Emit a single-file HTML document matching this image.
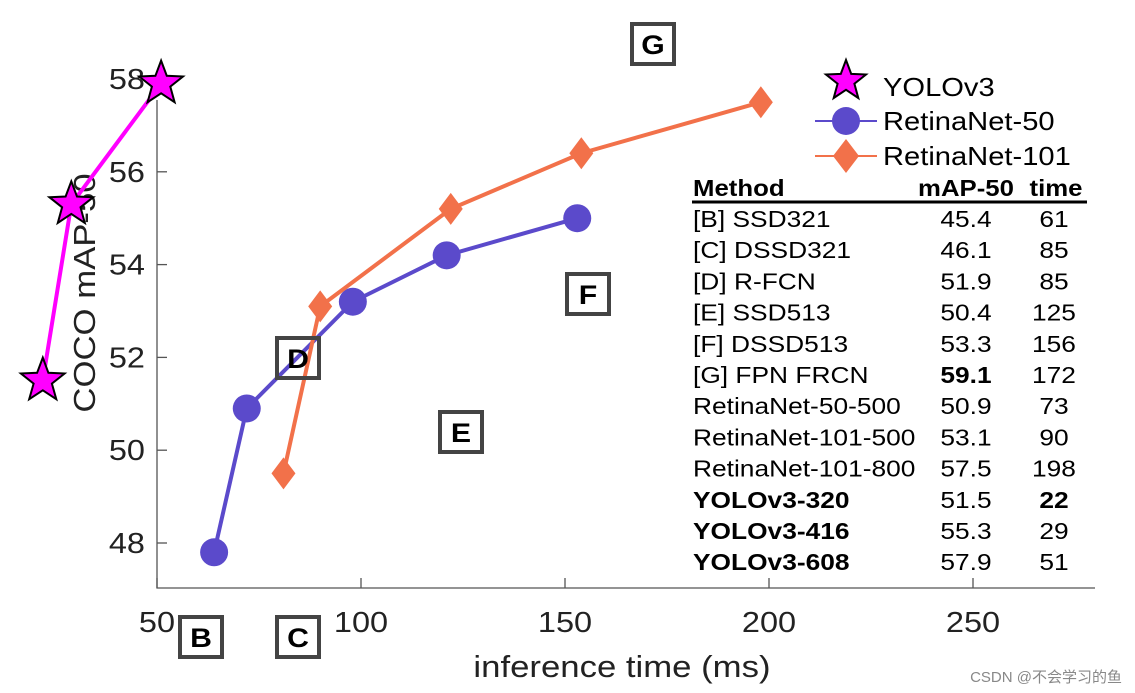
<!DOCTYPE html>
<html><head><meta charset="utf-8"><style>
body{margin:0;background:#fff}
svg{display:block;font-family:"Liberation Sans",Arial,sans-serif}
</style></head><body>
<svg id="c" width="1135" height="693" viewBox="0 0 1135 693">
<g id="axes"></g>
<g id="marks"></g>
<g id="anno"></g>
</svg>
<script>
const xTicks=[50,100,150,200,250];
const yTicks=[48,50,52,54,56,58];
const yoloX=[22,29,51], yoloY=[51.5,55.3,57.9];
const r50X=[64,72,98,121,153], r50Y=[47.8,50.9,53.2,54.2,55.0];
const r101X=[81,90,122,154,198], r101Y=[49.5,53.1,55.2,56.4,57.5];
const tMethods=["[B] SSD321","[C] DSSD321","[D] R-FCN","[E] SSD513","[F] DSSD513","[G] FPN FRCN","RetinaNet-50-500","RetinaNet-101-500","RetinaNet-101-800","YOLOv3-320","YOLOv3-416","YOLOv3-608"];
const tMap=["45.4","46.1","51.9","50.4","53.3","59.1","50.9","53.1","57.5","51.5","55.3","57.9"];
const tTime=["61","85","85","125","156","172","73","90","198","22","29","51"];
const NS="http://www.w3.org/2000/svg";
const X=v=>157+(v-50)*4.08, Y=v=>543-(v-48)*46.4;
const wide=[];
function mk(p,tag,at,txt){const e=document.createElementNS(NS,tag);for(const k in at)e.setAttribute(k,at[k]);if(txt!=null){e.textContent=txt;wide.push(e);}p.appendChild(e);return e;}
const ax=document.getElementById('axes'),mg=document.getElementById('marks'),an=document.getElementById('anno');
let e=mk(ax,'path',{d:'M157 100V588H1095',fill:'none',stroke:'#555','stroke-width':1.3});


xTicks.forEach(t=>{
 let l=mk(ax,'line',{x1:X(t),x2:X(t),y1:588,y2:578,stroke:'#555','stroke-width':1.3});
 
 
 let s=mk(ax,'text',{x:X(t),y:632,'text-anchor':'middle','font-size':29,fill:'#222'},t);
 
 
});
yTicks.forEach(t=>{
 let l=mk(ax,'line',{x1:157,x2:167,y1:Y(t),y2:Y(t),stroke:'#555','stroke-width':1.3});
 
 
 let s=mk(ax,'text',{x:145,y:Y(t)+10,'text-anchor':'end','font-size':29,fill:'#222'},t);
 
 
});
e=mk(ax,'text',{x:622,y:677,'text-anchor':'middle','font-size':31,fill:'#222'},'inference time (ms)');


e=mk(ax,'text',{x:0,y:0,transform:'translate(95,293) rotate(-90)','text-anchor':'middle','font-size':31,fill:'#222'},'COCO mAP-50');


function star(cx,cy,R){let p=[];for(let i=0;i<10;i++){const r=i%2?R*0.42:R,a=-Math.PI/2+i*Math.PI/5;p.push((cx+r*Math.cos(a)).toFixed(1)+','+(cy+r*Math.sin(a)).toFixed(1));}return p.join(' ');}
function series(xs,ys,col,kind,name){
 const pts=xs.map((x,i)=>X(x)+','+Y(ys[i])).join(' ');
 let l=mk(mg,'polyline',{points:pts,fill:'none',stroke:col,'stroke-width':4});
 
 
 xs.forEach((x,i)=>{
  let m;
  if(kind==='star')m=mk(mg,'polygon',{points:star(X(x),Y(ys[i]),23),fill:'#ff00ff',stroke:'#000','stroke-width':2});
  else if(kind==='circle')m=mk(mg,'circle',{cx:X(x),cy:Y(ys[i]),r:14,fill:col});
  else m=mk(mg,'polygon',{points:`${X(x)},${Y(ys[i])-16} ${X(x)+12},${Y(ys[i])} ${X(x)},${Y(ys[i])+16} ${X(x)-12},${Y(ys[i])}`,fill:col});
  
  
 });
}
series(r50X,r50Y,'#5b4acb','circle','retinanet-50');
series(r101X,r101Y,'#f2714a','diamond','retinanet-101');
series(yoloX,yoloY,'#ff00ff','star','yolov3');
[['B',201,637],['C',298,637],['D',298,358],['E',461,432],['F',588,294],['G',653,44]].forEach(b=>{
 let r=mk(an,'rect',{x:b[1]-21,y:b[2]-20,width:42,height:40,fill:'none',stroke:'#444','stroke-width':4});
 
 
 let t=mk(an,'text',{x:b[1],y:b[2]+10,'text-anchor':'middle','font-size':27,'font-weight':'bold',fill:'#000'},b[0]);
 
 
});
const lg=[['YOLOv3','star','#ff00ff',87],['RetinaNet-50','circle','#5b4acb',121],['RetinaNet-101','diamond','#f2714a',156]];
lg.forEach(L=>{
 const y=L[3];
 if(L[1]!=='star'){let l=mk(an,'line',{x1:815,x2:877,y1:y,y2:y,stroke:L[2],'stroke-width':2});}
 let m;
 if(L[1]==='star')m=mk(an,'polygon',{points:star(846,y-6,21),fill:'#ff00ff',stroke:'#000','stroke-width':2});
 else if(L[1]==='circle')m=mk(an,'circle',{cx:846,cy:y,r:14,fill:L[2]});
 else m=mk(an,'polygon',{points:`846,${y-17} 859,${y} 846,${y+17} 833,${y}`,fill:L[2]});
 
 
 let t=mk(an,'text',{x:883,y:y+9,'font-size':26,fill:'#000'},L[0]);
 
 
});
const hd=[['Method',693,'start'],['mAP-50',966,'middle'],['time',1056,'middle']];
hd.forEach(h=>{let t=mk(an,'text',{x:h[1],y:196,'text-anchor':h[2],'font-size':23,'font-weight':'bold',fill:'#000'},h[0]);});
e=mk(an,'line',{x1:692,x2:1087,y1:202,y2:202,stroke:'#000','stroke-width':3});


tMethods.forEach((m,i)=>{
 const y=227+i*31.2, yb=i>=9;
 let t=mk(an,'text',{x:693,y:y,'font-size':23.5,'font-weight':yb?'bold':'normal',fill:'#000'},m);
 
 
 t=mk(an,'text',{x:966,y:y,'text-anchor':'middle','font-size':23.5,'font-weight':i===5?'bold':'normal',fill:'#000'},tMap[i]);
 
 
 t=mk(an,'text',{x:1054,y:y,'text-anchor':'middle','font-size':23.5,'font-weight':i===9?'bold':'normal',fill:'#000'},tTime[i]);
 
 
});
wide.forEach(t=>{const w=t.getComputedTextLength();t.setAttribute('textLength',(w*1.12).toFixed(1));t.setAttribute('lengthAdjust','spacingAndGlyphs');});
e=mk(an,'text',{x:1122,y:682,'text-anchor':'end','font-size':15,fill:'#888','font-family':'"Liberation Sans","Noto Sans CJK SC",sans-serif'},'CSDN @不会学习的鱼');


</script>
</body></html>
